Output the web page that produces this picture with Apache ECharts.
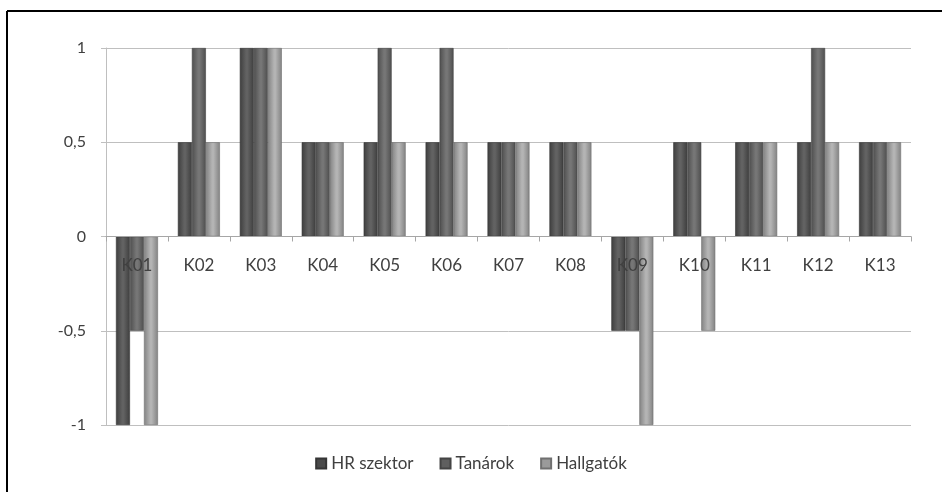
<!DOCTYPE html>
<html>
<head>
<meta charset="utf-8">
<script src="https://cdn.jsdelivr.net/npm/echarts@6/dist/echarts.min.js"></script>
<style>
  html, body { margin: 0; padding: 0; background: #fff; }
  #chart { width: 942px; height: 492px; }
</style>
</head>
<body>
<div id="chart"></div>
<script>
// Category codes along the x axis
const categories = ['K01','K02','K03','K04','K05','K06','K07','K08','K09','K10','K11','K12','K13'];

// Scores per group
const hrSzektor = [-1, 0.5, 1, 0.5, 0.5, 0.5, 0.5, 0.5, -0.5, 0.5, 0.5, 0.5, 0.5];
const tanarok   = [-0.5, 1, 1, 0.5, 1, 1, 0.5, 0.5, -0.5, 0.5, 0.5, 1, 0.5];
const hallgatok = [-1, 0.5, 1, 0.5, 0.5, 0.5, 0.5, 0.5, -1, -0.5, 0.5, 0.5, 0.5];

const seriesNames = ['HR szektor', 'Tanárok', 'Hallgatók'];

// Cylinder-like shading: darker edges, lighter middle
function shade(edge, mid) {
  return new echarts.graphic.LinearGradient(0, 0, 1, 0, [
    { offset: 0, color: edge },
    { offset: 0.45, color: mid },
    { offset: 0.55, color: mid },
    { offset: 1, color: edge }
  ]);
}

const styles = [
  { fill: shade('#3e3e3e', '#626262'), legend: '#4a4a4a', border: '#353535' },
  { fill: shade('#4e4e4e', '#767676'), legend: '#5f5f5f', border: '#444' },
  { fill: shade('#828282', '#b4b4b4'), legend: '#9a9a9a', border: '#707070' }
];

const GRID = { left: 106, right: 31, top: 48, bottom: 67 };
const PLOT_H = 492 - GRID.top - GRID.bottom;
const Y_MIN = -1, Y_MAX = 1;
// Shift the category axis up from the bottom edge to the value 0
const zeroOffset = -PLOT_H * (0 - Y_MIN) / (Y_MAX - Y_MIN);

const chart = echarts.init(document.getElementById('chart'));
const FONT = 'Lato, "Open Sans", sans-serif';

chart.setOption({
  backgroundColor: '#fff',
  animation: false,
  textStyle: { fontFamily: FONT },
  graphic: [
    { type: 'line', shape: { x1: 7, y1: 11, x2: 942, y2: 11 }, style: { stroke: '#000', lineWidth: 2 }, silent: true },
    { type: 'line', shape: { x1: 7, y1: 11, x2: 7, y2: 492 }, style: { stroke: '#000', lineWidth: 2 }, silent: true }
  ],
  grid: GRID,
  legend: {
    bottom: 15,
    left: 'center',
    icon: 'rect',
    itemWidth: 10,
    itemHeight: 10,
    itemGap: 26,
    textStyle: { fontSize: 17, color: '#404040', fontFamily: FONT },
    data: seriesNames.map((n, i) => ({ name: n, itemStyle: { color: styles[i].legend } }))
  },
  xAxis: {
    type: 'category',
    data: categories,
    position: 'bottom',
    offset: zeroOffset,
    z: 10,
    axisLine: { onZero: false, lineStyle: { color: '#a6a6a6', width: 1 } },
    axisTick: { show: true, length: 5, lineStyle: { color: '#a6a6a6' } },
    axisLabel: { fontSize: 17, color: '#404040', margin: 21, fontFamily: FONT },
    splitLine: { show: false }
  },
  yAxis: {
    type: 'value',
    min: Y_MIN,
    max: Y_MAX,
    interval: 0.5,
    axisLine: { show: true, lineStyle: { color: '#bfbfbf' } },
    axisTick: { show: true, length: 5, lineStyle: { color: '#bfbfbf' } },
    axisLabel: {
      fontSize: 16,
      color: '#404040',
      margin: 20,
      fontFamily: FONT,
      formatter: v => String(v).replace('.', ',')
    },
    splitLine: { lineStyle: { color: '#bfbfbf', width: 1 } }
  },
  series: [hrSzektor, tanarok, hallgatok].map((d, i) => ({
    name: seriesNames[i],
    type: 'bar',
    data: d,
    barWidth: 14,
    barGap: '0%',
    z: 2,
    itemStyle: { color: styles[i].fill, borderColor: styles[i].border, borderWidth: 0.6 }
  }))
});
</script>
</body>
</html>
